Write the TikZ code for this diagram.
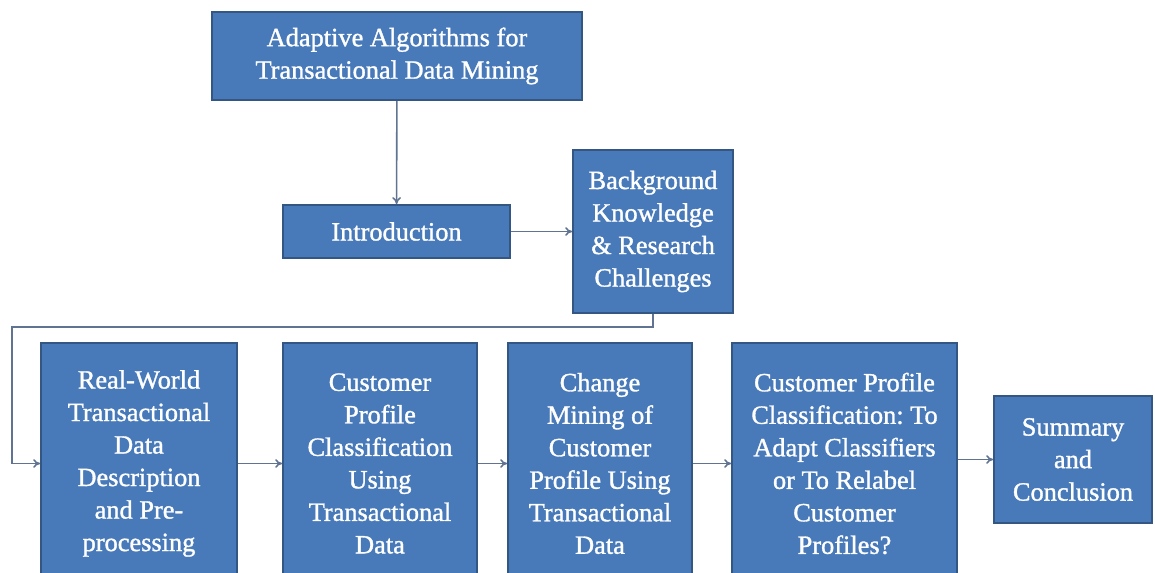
\documentclass[tikz,border=0pt]{standalone}
\usepackage{fontspec}
\usepackage{tikz}
\usetikzlibrary{shapes,arrows,positioning,calc,arrows.meta}
\setmainfont{Liberation Serif}
\newfontfamily\boxfont[FakeBold=1.2]{Liberation Serif}
\frenchspacing
\definecolor{boxblue}{RGB}{72,122,186}
\definecolor{boxedge}{RGB}{52,86,130}
\definecolor{linegray}{RGB}{96,116,146}

\begin{document}
\begin{tikzpicture}[x=0.02cm, y=-0.02cm,
    box/.style={draw=boxedge, line width=1pt, fill=boxblue, rectangle, text=white, align=center, font=\boxfont\fontsize{15}{18.5}\selectfont},
    arr/.style={-{To[length=4pt,width=5pt]}, draw=linegray, line width=0.9pt}]
    \clip (0,0) rectangle (1155,573);

    % Top level
    \node[box, minimum width=7.4cm, minimum height=1.76cm] (thesis) at (397,56) {Adaptive Algorithms for\\Transactional Data Mining};

    % Second level
    \node[box, minimum width=4.54cm, minimum height=1.06cm] (intro) at (396.5,231.5) {Introduction};
    \node[box, minimum width=3.2cm, minimum height=3.26cm] (bg) at (653,231.5) {Background\\Knowledge\\\& Research\\Challenges};

    % Chapters
    \node[box, minimum width=3.92cm, minimum height=4.82cm] (real) at (139,463.5) {Real-World\\Transactional\\Data\\Description\\and Pre-\\processing};
    \node[box, minimum width=3.88cm, minimum height=4.82cm] (profile) at (380,463.5) {Customer\\Profile\\Classification\\Using\\Transactional\\Data};
    \node[box, minimum width=3.68cm, minimum height=4.82cm] (change) at (600,463.5) {Change\\Mining of\\Customer\\Profile Using\\Transactional\\Data};
    \node[box, minimum width=4.5cm, minimum height=4.82cm] (adapt) at (844.5,463.5) {Customer Profile\\Classification: To\\Adapt Classifiers\\or To Relabel\\Customer\\Profiles?};
    \node[box, minimum width=3.16cm, minimum height=2.54cm] (summary) at (1073,459.5) {Summary\\and\\Conclusion};

    \coordinate (turn) at (12,327);

    % Connections
    \draw[arr] (thesis) -- (intro);
    \draw[arr] (intro) -- (bg);
    \draw[arr] (bg.south) |- (turn) |- (real.west);
    \draw[arr] (real) -- (profile);
    \draw[arr] (profile) -- (change);
    \draw[arr] (change) -- (adapt);
    \draw[arr] (adapt.east |- summary.west) -- (summary.west);

\end{tikzpicture}
\end{document}
